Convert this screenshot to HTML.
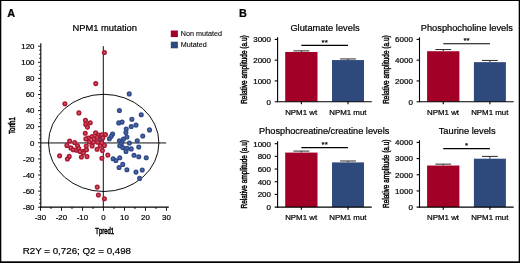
<!DOCTYPE html>
<html lang="en">
<head>
<meta charset="utf-8">
<title>NPM1 mutation figure</title>
<style>
html,body{margin:0;padding:0;background:#fff;}
svg text{stroke:#000;stroke-width:0.22px;paint-order:stroke fill;}
svg{will-change:transform;transform:translateZ(0);}
body{width:520px;height:263px;position:relative;overflow:hidden;font-family:"Liberation Sans",Arial,Helvetica,sans-serif;}
</style>
</head>
<body>
<svg width="520" height="263" viewBox="0 0 520 263" style="position:absolute;left:0;top:0" font-family="'Liberation Sans', Arial, Helvetica, sans-serif" fill="#000" stroke="none">
<text x="7.2" y="17.2" font-size="10.9" font-weight="bold" fill="#000">A</text>
<text x="239.1" y="17.2" font-size="10.9" font-weight="bold" fill="#000">B</text>
<text x="104.7" y="31.2" font-size="9.4" text-anchor="middle">NPM1 mutation</text>
<rect x="170.8" y="30.5" width="7.1" height="6.6" fill="#a30028"/>
<rect x="170.8" y="41.7" width="7.1" height="6.6" fill="#2e4a7d"/>
<text x="180.8" y="36.2" font-size="7.2" style="stroke-width:0.1px">Non mutated</text>
<text x="180.8" y="47.4" font-size="7.2" style="stroke-width:0.1px">Mutated</text>
<g stroke="#000" stroke-width="1.1" fill="none">
<path d="M40.80 43.2V207.65"/>
<path d="M40.25 207.10H168.8"/>
</g>
<g stroke="#000" stroke-width="0.9" fill="none">
<path d="M38.00 207.20H40.80"/>
<path d="M39.20 203.18H40.80"/>
<path d="M39.20 199.15H40.80"/>
<path d="M39.20 195.12H40.80"/>
<path d="M38.00 191.10H40.80"/>
<path d="M39.20 187.08H40.80"/>
<path d="M39.20 183.05H40.80"/>
<path d="M39.20 179.03H40.80"/>
<path d="M38.00 175.00H40.80"/>
<path d="M39.20 170.98H40.80"/>
<path d="M39.20 166.95H40.80"/>
<path d="M39.20 162.93H40.80"/>
<path d="M38.00 158.90H40.80"/>
<path d="M39.20 154.88H40.80"/>
<path d="M39.20 150.85H40.80"/>
<path d="M39.20 146.83H40.80"/>
<path d="M38.00 142.80H40.80"/>
<path d="M39.20 138.78H40.80"/>
<path d="M39.20 134.75H40.80"/>
<path d="M39.20 130.73H40.80"/>
<path d="M38.00 126.70H40.80"/>
<path d="M39.20 122.68H40.80"/>
<path d="M39.20 118.65H40.80"/>
<path d="M39.20 114.63H40.80"/>
<path d="M38.00 110.60H40.80"/>
<path d="M39.20 106.58H40.80"/>
<path d="M39.20 102.55H40.80"/>
<path d="M39.20 98.53H40.80"/>
<path d="M38.00 94.50H40.80"/>
<path d="M39.20 90.48H40.80"/>
<path d="M39.20 86.45H40.80"/>
<path d="M39.20 82.43H40.80"/>
<path d="M38.00 78.40H40.80"/>
<path d="M39.20 74.38H40.80"/>
<path d="M39.20 70.35H40.80"/>
<path d="M39.20 66.33H40.80"/>
<path d="M38.00 62.30H40.80"/>
<path d="M39.20 58.28H40.80"/>
<path d="M39.20 54.25H40.80"/>
<path d="M39.20 50.23H40.80"/>
<path d="M38.00 46.20H40.80"/>
<path d="M40.50 207.10V210.80"/>
<path d="M51.00 207.10V209.00"/>
<path d="M61.50 207.10V210.80"/>
<path d="M72.00 207.10V209.00"/>
<path d="M82.50 207.10V210.80"/>
<path d="M93.00 207.10V209.00"/>
<path d="M103.50 207.10V210.80"/>
<path d="M114.00 207.10V209.00"/>
<path d="M124.50 207.10V210.80"/>
<path d="M135.00 207.10V209.00"/>
<path d="M145.50 207.10V210.80"/>
<path d="M156.00 207.10V209.00"/>
<path d="M166.50 207.10V210.80"/>
</g>
<g font-size="7.9" text-anchor="end">
<text x="34.50" y="209.90">-80</text>
<text x="34.50" y="193.80">-60</text>
<text x="34.50" y="177.70">-40</text>
<text x="34.50" y="161.60">-20</text>
<text x="34.50" y="145.50">0</text>
<text x="34.50" y="129.40">20</text>
<text x="34.50" y="113.30">40</text>
<text x="34.50" y="97.20">60</text>
<text x="34.50" y="81.10">80</text>
<text x="34.50" y="65.00">100</text>
<text x="34.50" y="48.90">120</text>
</g>
<g font-size="7.9" text-anchor="middle">
<text x="40.40" y="220.1">-30</text>
<text x="61.40" y="220.1">-20</text>
<text x="82.40" y="220.1">-10</text>
<text x="103.50" y="220.1">0</text>
<text x="124.50" y="220.1">10</text>
<text x="145.50" y="220.1">20</text>
<text x="166.50" y="220.1">30</text>
</g>
<text transform="translate(104.7 233.8) scale(0.68 1)" font-size="8.8" text-anchor="middle" style="stroke-width:0.5px">Tpred1</text>
<text transform="translate(15.1 125.6) rotate(-90) scale(0.69 1)" font-size="8.8" text-anchor="middle" style="stroke-width:0.5px">Torth1</text>
<g stroke="#000" stroke-width="0.95" fill="none">
<path d="M103.30 46.2V207.10"/>
<path d="M40.80 142.95H166.2"/>
<ellipse cx="103.70" cy="142.90" rx="55.2" ry="48.6"/>
</g>
<g fill="#526ca2" stroke="#304a8b" stroke-width="1.5">
<circle cx="100.60" cy="139.30" r="1.8"/>
<circle cx="129.25" cy="93.90" r="1.8"/>
<circle cx="119.40" cy="110.50" r="1.8"/>
<circle cx="141.25" cy="114.70" r="1.8"/>
<circle cx="131.90" cy="119.30" r="1.8"/>
<circle cx="118.75" cy="122.90" r="1.8"/>
<circle cx="122.10" cy="122.10" r="1.8"/>
<circle cx="136.00" cy="125.10" r="1.8"/>
<circle cx="131.25" cy="126.50" r="1.8"/>
<circle cx="126.25" cy="129.00" r="1.8"/>
<circle cx="149.50" cy="129.90" r="1.8"/>
<circle cx="125.90" cy="132.50" r="1.8"/>
<circle cx="112.60" cy="134.10" r="1.8"/>
<circle cx="111.25" cy="136.30" r="1.8"/>
<circle cx="109.40" cy="138.70" r="1.8"/>
<circle cx="142.75" cy="136.00" r="1.8"/>
<circle cx="126.90" cy="137.00" r="1.8"/>
<circle cx="123.50" cy="139.10" r="1.8"/>
<circle cx="119.40" cy="140.80" r="1.8"/>
<circle cx="121.90" cy="141.75" r="1.8"/>
<circle cx="137.25" cy="140.80" r="1.8"/>
<circle cx="129.40" cy="143.10" r="1.8"/>
<circle cx="121.25" cy="143.90" r="1.8"/>
<circle cx="119.75" cy="145.75" r="1.8"/>
<circle cx="122.75" cy="147.60" r="1.8"/>
<circle cx="138.75" cy="147.00" r="1.8"/>
<circle cx="126.90" cy="148.25" r="1.8"/>
<circle cx="131.25" cy="148.90" r="1.8"/>
<circle cx="126.00" cy="151.40" r="1.8"/>
<circle cx="134.00" cy="155.30" r="1.8"/>
<circle cx="138.75" cy="156.70" r="1.8"/>
<circle cx="146.25" cy="157.70" r="1.8"/>
<circle cx="119.75" cy="157.70" r="1.8"/>
<circle cx="113.10" cy="158.75" r="1.8"/>
<circle cx="115.90" cy="160.50" r="1.8"/>
<circle cx="122.75" cy="164.40" r="1.8"/>
<circle cx="119.10" cy="167.50" r="1.8"/>
<circle cx="126.90" cy="169.75" r="1.8"/>
<circle cx="142.25" cy="170.00" r="1.8"/>
<circle cx="136.00" cy="172.10" r="1.8"/>
<circle cx="139.60" cy="178.40" r="1.8"/>
</g>
<g fill="#c45f58" stroke="#ae1735" stroke-width="1.5">
<circle cx="104.40" cy="52.50" r="1.8"/>
<circle cx="95.75" cy="83.60" r="1.8"/>
<circle cx="64.90" cy="103.75" r="1.8"/>
<circle cx="78.90" cy="112.90" r="1.8"/>
<circle cx="85.50" cy="120.40" r="1.8"/>
<circle cx="90.25" cy="122.80" r="1.8"/>
<circle cx="85.75" cy="124.40" r="1.8"/>
<circle cx="87.50" cy="127.10" r="1.8"/>
<circle cx="85.25" cy="133.25" r="1.8"/>
<circle cx="95.60" cy="132.90" r="1.8"/>
<circle cx="98.60" cy="135.00" r="1.8"/>
<circle cx="101.75" cy="134.75" r="1.8"/>
<circle cx="105.50" cy="134.60" r="1.8"/>
<circle cx="92.10" cy="136.60" r="1.8"/>
<circle cx="88.40" cy="138.10" r="1.8"/>
<circle cx="85.90" cy="138.90" r="1.8"/>
<circle cx="94.00" cy="138.90" r="1.8"/>
<circle cx="97.10" cy="137.25" r="1.8"/>
<circle cx="102.75" cy="138.10" r="1.8"/>
<circle cx="69.60" cy="141.00" r="1.8"/>
<circle cx="74.60" cy="142.60" r="1.8"/>
<circle cx="66.90" cy="145.40" r="1.8"/>
<circle cx="89.25" cy="142.00" r="1.8"/>
<circle cx="93.40" cy="142.25" r="1.8"/>
<circle cx="97.75" cy="142.25" r="1.8"/>
<circle cx="101.75" cy="142.90" r="1.8"/>
<circle cx="104.40" cy="145.40" r="1.8"/>
<circle cx="100.25" cy="146.00" r="1.8"/>
<circle cx="92.10" cy="146.00" r="1.8"/>
<circle cx="86.25" cy="146.00" r="1.8"/>
<circle cx="77.50" cy="145.75" r="1.8"/>
<circle cx="70.90" cy="147.90" r="1.8"/>
<circle cx="73.20" cy="149.80" r="1.8"/>
<circle cx="76.50" cy="150.30" r="1.8"/>
<circle cx="78.75" cy="148.50" r="1.8"/>
<circle cx="80.00" cy="151.50" r="1.8"/>
<circle cx="83.40" cy="151.30" r="1.8"/>
<circle cx="86.50" cy="149.80" r="1.8"/>
<circle cx="83.40" cy="153.00" r="1.8"/>
<circle cx="97.10" cy="149.30" r="1.8"/>
<circle cx="102.40" cy="150.60" r="1.8"/>
<circle cx="59.60" cy="155.70" r="1.8"/>
<circle cx="69.20" cy="156.40" r="1.8"/>
<circle cx="67.40" cy="159.00" r="1.8"/>
<circle cx="81.40" cy="157.00" r="1.8"/>
<circle cx="87.00" cy="156.60" r="1.8"/>
<circle cx="107.80" cy="155.10" r="1.8"/>
<circle cx="101.90" cy="158.30" r="1.8"/>
<circle cx="97.25" cy="187.10" r="1.8"/>
<circle cx="98.40" cy="195.00" r="1.8"/>
<circle cx="104.40" cy="198.75" r="1.8"/>
</g>
<text x="22.8" y="253.8" font-size="9.75">R2Y = 0,726; Q2 = 0,498</text>
<text x="290.40" y="30.90" font-size="9.3" text-anchor="start">Glutamate levels</text>
<rect x="285.20" y="51.96" width="32.30" height="49.74" fill="#a30028"/>
<rect x="332.00" y="60.06" width="32.00" height="41.64" fill="#2e4a7d"/>
<g stroke="#2a2a2a" stroke-width="1" fill="none">
<path d="M301.35 51.96V50.86M293.45 50.86H309.25"/>
<path d="M348.00 60.06V58.96M340.10 58.96H355.90"/>
</g>
<g stroke="#000" stroke-width="1.1" fill="none">
<path d="M277.60 37.30V102.25"/>
<path d="M274.70 101.70H371.80"/>
<path d="M274.70 80.93H277.60"/>
<path d="M274.70 60.17H277.60"/>
<path d="M274.70 39.40H277.60"/>
<path d="M301.35 101.70V104.30M348.00 101.70V104.30"/>
</g>
<g font-size="8" text-anchor="end">
<text x="271.00" y="104.55">0</text>
<text x="271.00" y="83.78">1000</text>
<text x="271.00" y="63.02">2000</text>
<text x="271.00" y="42.25">3000</text>
</g>
<g font-size="7.9" text-anchor="middle">
<text x="301.15" y="114.50">NPM1 wt</text>
<text x="347.90" y="114.50">NPM1 mut</text>
</g>
<text transform="translate(246.80 69.60) rotate(-90) scale(0.755 1)" font-size="8.6" text-anchor="middle" style="stroke-width:0.42px">Relative amplitude (a.u)</text>
<path d="M301.35 45.40H348.00" stroke="#000" stroke-width="1.1" fill="none"/>
<text x="324.68" y="44.65" font-size="8" text-anchor="middle">**</text>
<text x="420.80" y="30.80" font-size="9.25" text-anchor="start">Phosphocholine levels</text>
<rect x="427.10" y="51.24" width="32.30" height="50.46" fill="#a30028"/>
<rect x="473.90" y="62.14" width="32.00" height="39.56" fill="#2e4a7d"/>
<g stroke="#2a2a2a" stroke-width="1" fill="none">
<path d="M443.25 51.24V49.54M435.35 49.54H451.15"/>
<path d="M489.90 62.14V60.44M482.00 60.44H497.80"/>
</g>
<g stroke="#000" stroke-width="1.1" fill="none">
<path d="M419.50 37.30V102.25"/>
<path d="M416.60 101.70H513.70"/>
<path d="M416.60 80.93H419.50"/>
<path d="M416.60 60.17H419.50"/>
<path d="M416.60 39.40H419.50"/>
<path d="M443.25 101.70V104.30M489.90 101.70V104.30"/>
</g>
<g font-size="8" text-anchor="end">
<text x="412.90" y="104.55">0</text>
<text x="412.90" y="83.78">2000</text>
<text x="412.90" y="63.02">4000</text>
<text x="412.90" y="42.25">6000</text>
</g>
<g font-size="7.9" text-anchor="middle">
<text x="443.05" y="114.50">NPM1 wt</text>
<text x="489.80" y="114.50">NPM1 mut</text>
</g>
<text transform="translate(388.70 69.60) rotate(-90) scale(0.755 1)" font-size="8.6" text-anchor="middle" style="stroke-width:0.42px">Relative amplitude (a.u)</text>
<path d="M443.25 43.80H489.90" stroke="#000" stroke-width="1.1" fill="none"/>
<text x="466.57" y="43.05" font-size="8" text-anchor="middle">**</text>
<text x="259.10" y="134.20" font-size="9.2" text-anchor="start">Phosphocreatine/creatine levels</text>
<rect x="285.20" y="152.58" width="32.30" height="54.52" fill="#a30028"/>
<rect x="332.00" y="162.40" width="32.00" height="44.70" fill="#2e4a7d"/>
<g stroke="#2a2a2a" stroke-width="1" fill="none">
<path d="M301.35 152.58V151.08M293.45 151.08H309.25"/>
<path d="M348.00 162.40V161.00M340.10 161.00H355.90"/>
</g>
<g stroke="#000" stroke-width="1.1" fill="none">
<path d="M277.60 141.20V207.65"/>
<path d="M274.70 207.10H371.80"/>
<path d="M274.70 194.42H277.60"/>
<path d="M274.70 181.74H277.60"/>
<path d="M274.70 169.06H277.60"/>
<path d="M274.70 156.38H277.60"/>
<path d="M274.70 143.70H277.60"/>
<path d="M301.35 207.10V209.70M348.00 207.10V209.70"/>
</g>
<g font-size="8" text-anchor="end">
<text x="271.00" y="209.95">0</text>
<text x="271.00" y="197.27">200</text>
<text x="271.00" y="184.59">400</text>
<text x="271.00" y="171.91">600</text>
<text x="271.00" y="159.23">800</text>
<text x="271.00" y="146.55">1000</text>
</g>
<g font-size="7.9" text-anchor="middle">
<text x="301.15" y="219.90">NPM1 wt</text>
<text x="347.90" y="219.90">NPM1 mut</text>
</g>
<text transform="translate(246.80 174.25) rotate(-90) scale(0.755 1)" font-size="8.6" text-anchor="middle" style="stroke-width:0.42px">Relative amplitude (a.u)</text>
<path d="M301.35 147.60H348.00" stroke="#000" stroke-width="1.1" fill="none"/>
<text x="324.68" y="146.85" font-size="8" text-anchor="middle">**</text>
<text x="438.70" y="133.90" font-size="9.3" text-anchor="start">Taurine levels</text>
<rect x="427.10" y="165.53" width="32.30" height="41.57" fill="#a30028"/>
<rect x="473.90" y="158.70" width="32.00" height="48.40" fill="#2e4a7d"/>
<g stroke="#2a2a2a" stroke-width="1" fill="none">
<path d="M443.25 165.53V164.13M435.35 164.13H451.15"/>
<path d="M489.90 158.70V156.40M482.00 156.40H497.80"/>
</g>
<g stroke="#000" stroke-width="1.1" fill="none">
<path d="M419.50 140.20V207.65"/>
<path d="M416.60 207.10H513.70"/>
<path d="M416.60 190.93H419.50"/>
<path d="M416.60 174.75H419.50"/>
<path d="M416.60 158.57H419.50"/>
<path d="M416.60 142.40H419.50"/>
<path d="M443.25 207.10V209.70M489.90 207.10V209.70"/>
</g>
<g font-size="8" text-anchor="end">
<text x="412.90" y="209.95">0</text>
<text x="412.90" y="193.78">1000</text>
<text x="412.90" y="177.60">2000</text>
<text x="412.90" y="161.42">3000</text>
<text x="412.90" y="145.25">4000</text>
</g>
<g font-size="7.9" text-anchor="middle">
<text x="443.05" y="219.90">NPM1 wt</text>
<text x="489.80" y="219.90">NPM1 mut</text>
</g>
<text transform="translate(388.70 173.75) rotate(-90) scale(0.755 1)" font-size="8.6" text-anchor="middle" style="stroke-width:0.42px">Relative amplitude (a.u)</text>
<path d="M443.25 148.60H489.90" stroke="#000" stroke-width="1.1" fill="none"/>
<text x="466.57" y="147.85" font-size="8" text-anchor="middle">*</text>
<g fill="#000"><rect x="0" y="0" width="520" height="1"/><rect x="0" y="0" width="1.3" height="263"/><rect x="518.7" y="0" width="1.3" height="263"/><rect x="0" y="261.3" width="520" height="1.7"/></g>
</svg>
</body>
</html>
